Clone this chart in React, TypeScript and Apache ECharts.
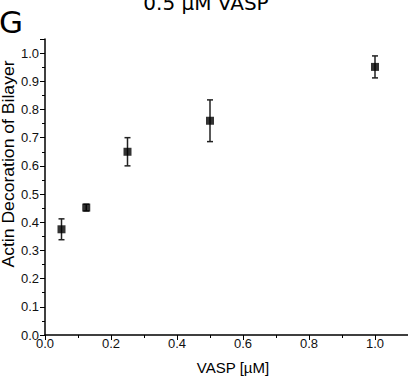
import React, { useEffect, useRef } from "react";
import * as echarts from "echarts";

const vaspConc = [0.05, 0.125, 0.25, 0.5, 1.0];
const decoration = [0.375, 0.452, 0.65, 0.76, 0.951];
const decorationErr = [0.037, 0.012, 0.05, 0.074, 0.039];
const xTicks = [0, 0.2, 0.4, 0.6, 0.8, 1.0];
const titleText = "0.5 µM VASP";
const panelLabel = "G";
const xName = "VASP [µM]";
const yName = "Actin Decoration of Bilayer";

export default function App() {
  const ref = useRef<HTMLDivElement>(null);
  useEffect(() => {
    if (!ref.current) return;
    const chart = echarts.init(ref.current, null, { renderer: "svg" });
    const points = vaspConc.map((x, i) => [x, decoration[i]]);
    const errs = vaspConc.map((x, i) => [x, decoration[i] - decorationErr[i], decoration[i] + decorationErr[i]]);
    chart.setOption({
      animation: false,
      grid: { left: 45, right: 0, top: 39, bottom: 41, containLabel: false },
      xAxis: {
        type: "value",
        min: 0,
        max: 1.1,
        interval: 0.2,
        axisLine: { lineStyle: { color: "#000", width: 1.5 } },
        axisTick: { show: true, inside: false, length: 5, lineStyle: { color: "#000", width: 1 } },
        minorTick: { show: true, splitNumber: 2, length: 3, lineStyle: { color: "#000", width: 1 } },
        splitLine: { show: false },
        axisLabel: {
          showMaxLabel: false,
          margin: 2,
          color: "#111",
          fontFamily: "Liberation Sans",
          fontSize: 13,
          formatter: (v: number) => (xTicks.some((t) => Math.abs(t - v) < 1e-6) ? v.toFixed(1) : ""),
        },
      },
      yAxis: {
        type: "value",
        min: 0,
        max: 1.05,
        interval: 0.1,
        axisLine: { show: true, lineStyle: { color: "#000", width: 1.5 } },
        axisTick: { show: true, inside: false, length: 5, lineStyle: { color: "#000", width: 1 } },
        minorTick: { show: true, splitNumber: 2, length: 3, lineStyle: { color: "#000", width: 1 } },
        splitLine: { show: false },
        axisLabel: {
          showMaxLabel: false,
          margin: 6,
          color: "#111",
          fontFamily: "Liberation Sans",
          fontSize: 13,
          formatter: (v: number) => v.toFixed(1),
        },
      },
      graphic: [
        {
          type: "text",
          x: 206,
          y: 3,
          style: {
            text: titleText,
            fontFamily: "DejaVu Sans",
            fontSize: 20,
            fill: "#000",
            align: "center",
            verticalAlign: "middle",
          },
        },
        {
          type: "text",
          x: -1,
          y: 22,
          style: {
            text: panelLabel,
            fontFamily: "DejaVu Sans",
            fontSize: 31,
            fill: "#000",
            align: "left",
            verticalAlign: "middle",
          },
        },
        {
          type: "text",
          x: 233,
          y: 367,
          style: {
            text: xName,
            fontFamily: "Liberation Sans",
            fontSize: 15,
            fill: "#000",
            align: "center",
            verticalAlign: "middle",
          },
        },
        {
          type: "text",
          x: 9,
          y: 164,
          rotation: Math.PI / 2,
          scaleX: 1.1,
          style: {
            text: yName,
            fontFamily: "Liberation Sans",
            fontSize: 16,
            fill: "#000",
            align: "center",
            verticalAlign: "middle",
          },
        },
      ],
      series: [
        {
          type: "custom",
          data: errs,
          z: 2,
          renderItem: (params: any, api: any) => {
            const x = api.value(0);
            const lo = api.coord([x, api.value(1)]);
            const hi = api.coord([x, api.value(2)]);
            const cx = lo[0];
            const hw = 3;
            const st = { stroke: "#222", lineWidth: 1.5 };
            return {
              type: "group",
              children: [
                { type: "line", shape: { x1: cx, y1: lo[1], x2: cx, y2: hi[1] }, style: st },
                { type: "line", shape: { x1: cx - hw, y1: lo[1], x2: cx + hw, y2: lo[1] }, style: st },
                { type: "line", shape: { x1: cx - hw, y1: hi[1], x2: cx + hw, y2: hi[1] }, style: st },
              ],
            };
          },
        },
        {
          type: "scatter",
          data: points,
          symbol: "rect",
          symbolSize: 8,
          z: 3,
          itemStyle: { color: "#000" },
        },
      ],
    });
    return () => chart.dispose();
  }, []);
  return <div ref={ref} style={{ width: 408, height: 376, position: "absolute", left: 0, top: 0 }} />;
}
